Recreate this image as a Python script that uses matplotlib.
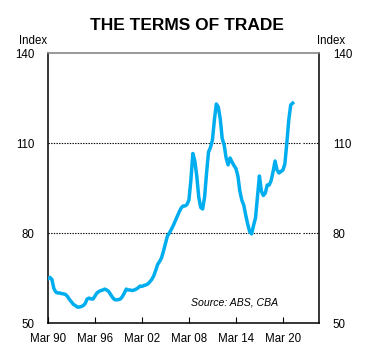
import numpy as np
import matplotlib.pyplot as plt

plt.rcParams['font.family'] = ['Liberation Sans', 'DejaVu Sans']

# quarterly terms of trade index, Mar 1990 onwards
tot = [
    64.8, 65.2, 64.5, 61.5,   # 1990
    60.3, 60.0, 60.0, 59.8,   # 1991
    59.7, 59.5, 58.8, 57.8,   # 1992
    57.0, 56.2, 55.8, 55.3,   # 1993
    55.3, 55.5, 55.8, 56.5,   # 1994
    58.0, 58.3, 58.0, 58.0,   # 1995
    59.0, 60.0, 60.5, 60.8,   # 1996
    61.0, 61.3, 61.0, 60.5,   # 1997
    59.5, 58.5, 57.8, 57.7,   # 1998
    57.8, 58.0, 58.8, 60.0,   # 1999
    61.3, 61.0, 61.0, 60.8,   # 2000
    61.0, 61.3, 61.7, 62.3,   # 2001
    62.2, 62.5, 62.7, 63.0,   # 2002
    63.7, 64.5, 65.7, 67.5,   # 2003
    69.5, 70.5, 71.7, 74.0,   # 2004
    76.5, 79.0, 80.0, 81.2,   # 2005
    82.5, 84.0, 85.5, 87.0,   # 2006
    88.3, 89.0, 89.0, 89.5,   # 2007
    91.0, 97.7, 106.5, 104.0, # 2008
    99.0, 92.0, 88.5, 88.0,   # 2009
    92.0, 100.0, 107.0, 108.5,# 2010
    111.0, 117.7, 123.0, 122.0, # 2011
    118.0, 111.5, 109.3, 105.0, # 2012
    102.7, 105.0, 103.7, 102.5, # 2013
    101.5, 99.0, 94.0, 91.0,  # 2014
    89.3, 86.0, 83.0, 80.5,   # 2015
    79.7, 82.5, 85.0, 92.0,   # 2016
    99.0, 94.0, 92.5, 93.3,   # 2017
    96.0, 96.0, 97.5, 100.5,  # 2018
    104.0, 101.0, 100.0, 100.5, # 2019
    101.0, 103.0, 110.0, 117.7, # 2020
    122.7, 123.3,             # 2021
]
t = 1990 + np.arange(len(tot)) / 4

xticks = [1990, 1996, 2002, 2008, 2014, 2020]
xlabels = ['Mar 90', 'Mar 96', 'Mar 02', 'Mar 08', 'Mar 14', 'Mar 20']
yticks = [50, 80, 110, 140]

fig = plt.figure(figsize=(3.73, 3.61), dpi=100)
ax = fig.add_axes([48/373, 1 - 323/361, 271/373, 270/361])

ax.plot(t, tot, color='#00AEEF', lw=2.5, solid_joinstyle='round', zorder=3)

ax.set_xlim(1990, 1990 + 271/7.83)
ax.set_ylim(50, 140)

# dotted gridlines (broken near the right edge like the original)
for y in [80, 110]:
    ax.axhline(y, xmin=0, xmax=0.93, color='black', lw=0.8, ls=(0, (1.2, 1.2)), zorder=1)
    ax.axhline(y, xmin=0.94, xmax=1, color='black', lw=0.8, ls=(0, (1.2, 1.2)), zorder=1)

ax.set_xticks(xticks)
ax.set_xticklabels(xlabels, fontsize=8.3)
ax.tick_params(axis='x', direction='in', length=4, width=0.8, pad=7)
ax.set_yticks(yticks)
ax.set_yticklabels([str(v) for v in yticks], fontsize=8.3)
ax.tick_params(axis='y', length=0, pad=10, labelright=True)

ax.spines['top'].set_color('#888888')
ax.spines['top'].set_linewidth(1.2)
for s in ['left', 'right', 'bottom']:
    ax.spines[s].set_color('black')
    ax.spines[s].set_linewidth(1.1)

ax.text(2008.3, 56.8, 'Source: ABS, CBA', fontsize=7.6, style='italic', ha='left', va='center')

fig.text(187/373, 1 - 26/361, 'THE TERMS OF TRADE', fontsize=12.5, fontweight='bold',
         ha='center', va='center')
fig.text(47/373, 1 - 41/361, 'Index', fontsize=8.3, ha='right', va='center')
fig.text(317/373, 1 - 41/361, 'Index', fontsize=8.3, ha='left', va='center')

fig.savefig('out.png', dpi=100)
